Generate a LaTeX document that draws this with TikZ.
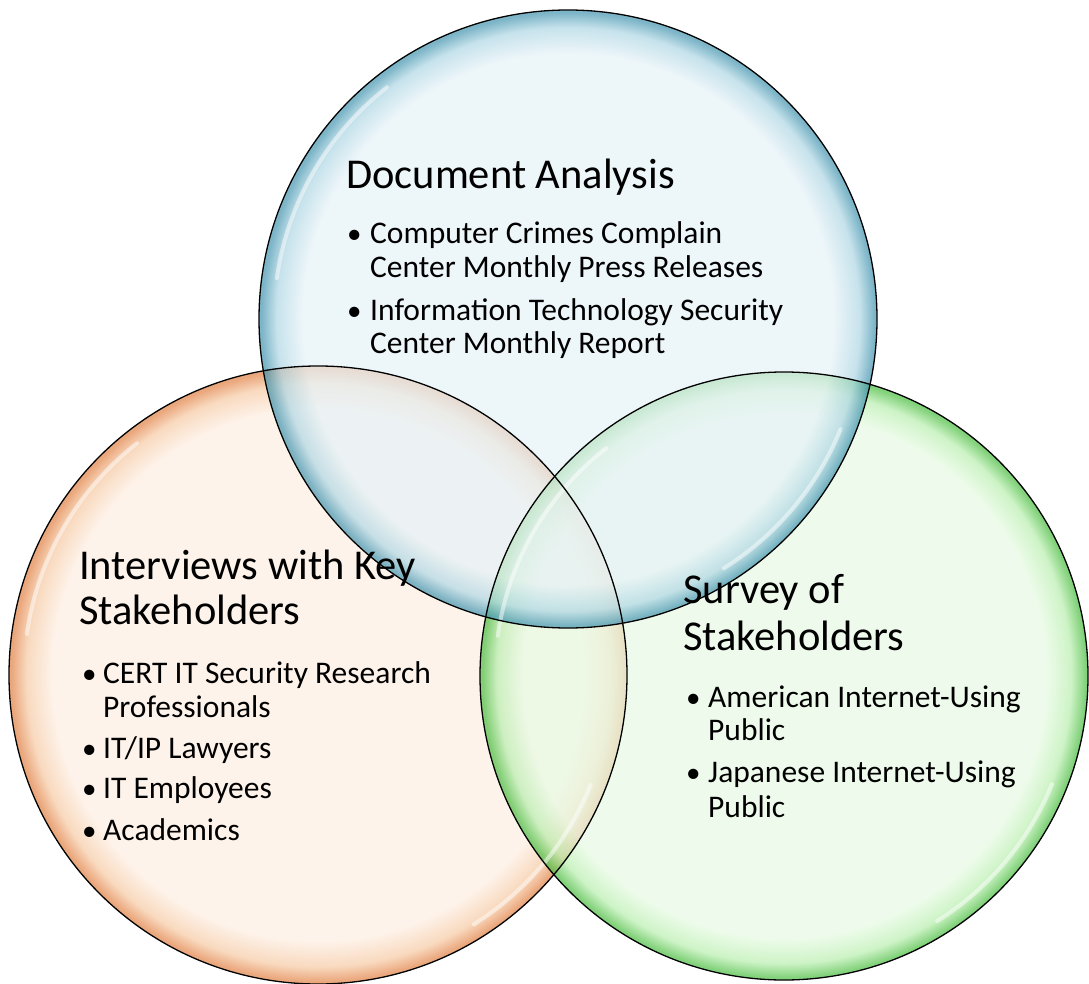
\documentclass[tikz,border=0pt]{standalone}
\usepackage{fontspec}
\setmainfont{Carlito}
\begin{document}
% Colour ramps for the three glass discs
\definecolor{bluein}{HTML}{E6F2F7}
\definecolor{bluemid}{HTML}{B0D7E4}
\definecolor{blueedge}{HTML}{4A98B2}
\definecolor{orangein}{HTML}{FDEEE2}
\definecolor{orangemid}{HTML}{F6CBA6}
\definecolor{orangeedge}{HTML}{E2854A}
\definecolor{greenin}{HTML}{E8FAE4}
\definecolor{greenmid}{HTML}{BBEFB1}
\definecolor{greenedge}{HTML}{52C048}
% The disc radius corresponds to 25bp of the shading
\pgfdeclareradialshading{glassblue}{\pgfpoint{0bp}{0bp}}{color(0bp)=(bluein); color(21.5bp)=(bluein); color(23.6bp)=(bluemid); color(24.8bp)=(blueedge); color(25bp)=(blueedge); color(50bp)=(blueedge)}
\pgfdeclareradialshading{glassorange}{\pgfpoint{0bp}{0bp}}{color(0bp)=(orangein); color(21.5bp)=(orangein); color(23.6bp)=(orangemid); color(24.8bp)=(orangeedge); color(25bp)=(orangeedge); color(50bp)=(orangeedge)}
\pgfdeclareradialshading{glassgreen}{\pgfpoint{0bp}{0bp}}{color(0bp)=(greenin); color(21.5bp)=(greenin); color(23.6bp)=(greenmid); color(24.8bp)=(greenedge); color(25bp)=(greenedge); color(50bp)=(greenedge)}
\begin{tikzpicture}[x=1pt,y=-1pt,
  disc/.style={circle,minimum size=#1,inner sep=0pt,fill opacity=0.72},
  rim/.style={draw=black,line width=1.3pt},
  gloss/.style={white,line width=4pt,opacity=0.5,line cap=round},
  headtext/.style={anchor=base west,inner sep=0pt,font=\fontsize{42.5}{50}\selectfont},
  itemtext/.style={anchor=base west,inner sep=0pt,font=\fontsize{31.5}{38}\selectfont},
  dot/.style={anchor=base west,inner sep=0pt,font=\fontsize{29}{34}\selectfont}]
\useasboundingbox (0,0) rectangle (1089,984);

% Discs
\node[disc=618pt,shading=glassorange] (interviews) at (318,675) {};
\node[disc=608pt,shading=glassgreen] (survey) at (784,676) {};
\node[disc=618pt,shading=glassblue] (documents) at (568,319) {};

% Glass reflections along the rims (upper left and lower right)
\foreach \c/\r in {interviews/294, survey/289, documents/294}{
  \draw[gloss] (\c.center) ++(188:\r) arc[start angle=188,end angle=232,radius=\r];
  \draw[gloss] (\c.center) ++(22:\r) arc[start angle=22,end angle=58,radius=\r];
}

% Outlines on top so every edge stays visible through the overlaps
\draw[rim] (interviews.center) circle[radius=309pt];
\draw[rim] (survey.center) circle[radius=304pt];
\draw[rim] (documents.center) circle[radius=309pt];

% Document analysis
\node[headtext] (dtitle) at (346,189) {Document Analysis};
\node[dot] (db1) at (347,244) {\textbullet};
\node[itemtext] (d1a) at (370,244) {Computer Crimes Complain};
\node[itemtext] (d1b) at (370,278) {Center Monthly Press Releases};
\node[dot] (db2) at (347,320) {\textbullet};
\node[itemtext] (d2a) at (370,320) {Information Technology Security};
\node[itemtext] (d2b) at (370,353) {Center Monthly Report};

% Interviews
\node[headtext] (ititle1) at (79,579) {Interviews with Key};
\node[headtext] (ititle2) at (79,624) {Stakeholders};
\node[dot] (ib1) at (82,683) {\textbullet};
\node[itemtext] (i1a) at (103,683) {CERT IT Security Research};
\node[itemtext] (i1b) at (103,717) {Professionals};
\node[dot] (ib2) at (82,758) {\textbullet};
\node[itemtext] (i2) at (103,758) {IT/IP Lawyers};
\node[dot] (ib3) at (82,798) {\textbullet};
\node[itemtext] (i3) at (103,798) {IT Employees};
\node[dot] (ib4) at (82,840) {\textbullet};
\node[itemtext] (i4) at (103,840) {Academics};

% Survey
\node[headtext] (stitle1) at (683,603) {Survey of};
\node[headtext] (stitle2) at (683,650) {Stakeholders};
\node[dot] (sb1) at (686,707) {\textbullet};
\node[itemtext] (s1a) at (708,707) {American Internet-Using};
\node[itemtext] (s1b) at (708,740) {Public};
\node[dot] (sb2) at (686,782) {\textbullet};
\node[itemtext] (s2a) at (708,782) {Japanese Internet-Using};
\node[itemtext] (s2b) at (708,817) {Public};
\end{tikzpicture}
\end{document}
